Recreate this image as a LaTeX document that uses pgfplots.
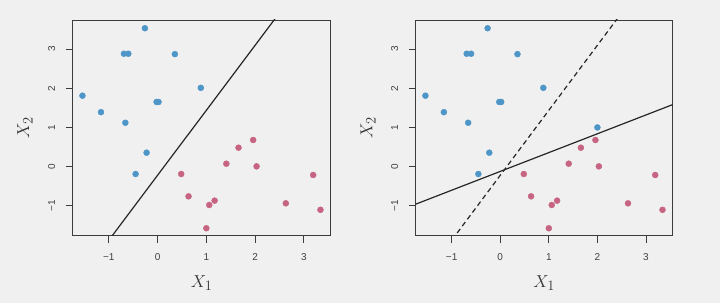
\documentclass[border=0pt]{standalone}
\usepackage{pgfplots}
\pgfplotsset{compat=1.18}
\usepackage{pgfplotstable}
\usepackage{fontspec}
\setsansfont{Liberation Sans}
\definecolor{bg}{RGB}{240,240,240}
\definecolor{ptblue}{RGB}{78,150,200}
\definecolor{ptred}{RGB}{198,100,130}
\definecolor{frame}{RGB}{60,60,60}

\pgfplotstableread{
x y
-0.26 3.53
-0.69 2.88
-0.60 2.88
0.355 2.87
0.887 2.01
-1.54 1.81
-0.02 1.65
0.02 1.65
-1.16 1.39
-0.66 1.12
-0.225 0.357
-0.45 -0.187
}\blue

\pgfplotstableread{
x y
2.00 1.00
}\blueextra

\pgfplotstableread{
x y
0.485 -0.187
0.635 -0.756
1.06 -0.977
1.17 -0.866
1.00 -1.57
1.41 0.076
1.66 0.484
1.96 0.68
2.03 0.008
2.63 -0.934
3.19 -0.212
3.34 -1.10
}\red

\pgfplotstableread{
x y
-1.20 -2.21
2.60 4.09
}\lineA

\pgfplotstableread{
x y
-1.80 -0.985
3.60 1.607
}\lineB

\pgfplotsset{panel/.style={
  scale only axis, width=258pt, height=215.7pt,
  xmin=-1.74, xmax=3.55, ymin=-1.76, ymax=3.74,
  axis line style={frame, line width=0.9pt},
  xtick={-1,0,1,2,3}, ytick={-1,0,1,2,3},
  xticklabels={\textminus1,0,1,2,3}, yticklabels={\textminus1,0,1,2,3},
  tick align=outside, major tick length=7pt,
  xtick pos=bottom, ytick pos=left,
  tick style={frame, line width=0.8pt},
  ticklabel style={font=\sffamily\fontsize{10}{12}\selectfont, text=black!75},
  xticklabel style={anchor=north, yshift=-7pt},
  yticklabel style={xshift=-7pt, rotate=90, anchor=south},
  xlabel={$X_1$}, ylabel={$X_2$},
  label style={font=\fontsize{19}{22}\selectfont, text=black!80},
  xlabel style={at={(axis description cs:0.5,-0.219)}, anchor=center},
  ylabel style={at={(axis description cs:-0.185,0.5)}, anchor=center},
  every axis plot/.append style={},
}}

\begin{document}
\begin{tikzpicture}[x=1pt,y=1pt]
\useasboundingbox (0,0) rectangle (720,303);
\fill[bg] (0,0) rectangle (720,303);

\begin{axis}[panel, at={(72.7pt,67.3pt)}, anchor=south west]
\addplot[only marks, mark=*, mark size=3pt, mark options={draw=ptblue, fill=ptblue}] table {\blue};
\addplot[only marks, mark=*, mark size=3pt, mark options={draw=ptred, fill=ptred}] table {\red};
\addplot[no marks, color=black!85, line width=1.2pt] table {\lineA};
\end{axis}

\begin{axis}[panel, at={(415.7pt,67.3pt)}, anchor=south west, width=257pt]
\addplot[only marks, mark=*, mark size=3pt, mark options={draw=ptblue, fill=ptblue}] table {\blue};
\addplot[only marks, mark=*, mark size=3pt, mark options={draw=ptblue, fill=ptblue}] table {\blueextra};
\addplot[only marks, mark=*, mark size=3pt, mark options={draw=ptred, fill=ptred}] table {\red};
\addplot[no marks, color=black!85, line width=1.2pt, dash pattern=on 5pt off 3.5pt] table {\lineA};
\addplot[no marks, color=black!85, line width=1.2pt] table {\lineB};
\end{axis}
\end{tikzpicture}
\end{document}
